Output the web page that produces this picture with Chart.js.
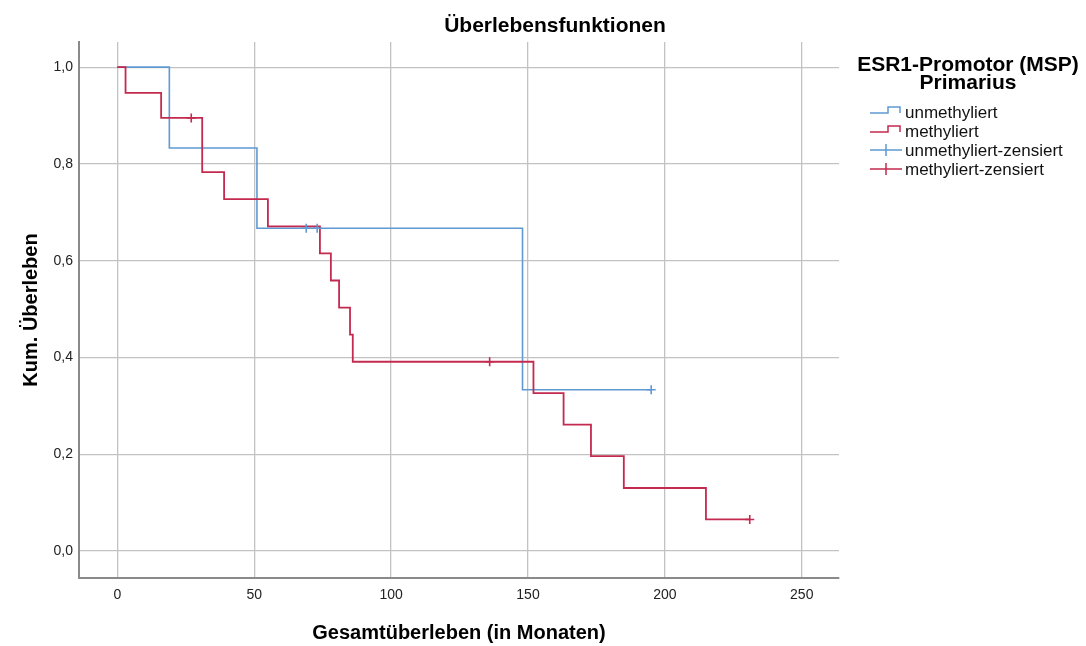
<!DOCTYPE html>
<html>
<head>
<meta charset="utf-8">
<script src="https://cdn.jsdelivr.net/npm/chart.js@4.4.1/dist/chart.umd.min.js"></script>
<style>
  html, body { margin: 0; padding: 0; background: #ffffff; }
  #wrap { position: relative; width: 1086px; height: 646px; }
</style>
</head>
<body>
<div id="wrap"><canvas id="c" width="1086" height="646"></canvas></div>
<script>
// ---- Data ----
const chartTitle = "Überlebensfunktionen";
const xAxisTitle = "Gesamtüberleben (in Monaten)";
const yAxisTitle = "Kum. Überleben";
const legendTitle = ["ESR1-Promotor (MSP)", "Primarius"];
const seriesNames = ["unmethyliert", "methyliert", "unmethyliert-zensiert", "methyliert-zensiert"];

const xTicks = [0, 50, 100, 150, 200, 250];
const yTicks = [0.0, 0.2, 0.4, 0.6, 0.8, 1.0];

// unmethyliert: step curve (time, survival after the step)
const unmethTimes = [0, 19, 51, 148, 195];
const unmethSurv  = [1.0, 0.833, 0.667, 0.333, 0.333];
const unmethCensTimes = [69, 73, 195];
const unmethCensSurv  = [0.667, 0.667, 0.333];

// methyliert
const methTimes = [0, 3, 16, 31, 39, 55, 74, 78, 81, 85, 86, 152, 163, 173, 185, 215, 231];
const methSurv  = [1.0, 0.947, 0.895, 0.783, 0.727, 0.671, 0.615, 0.559, 0.503, 0.447, 0.391, 0.326, 0.261, 0.196, 0.130, 0.065, 0.065];
const methCensTimes = [27, 136, 231];
const methCensSurv  = [0.895, 0.391, 0.065];

// ---- Styling ----
const BLUE = "#5f9ad2";
const RED = "#c42a4f";
const GRID = "#c2c2c2";
const AXIS = "#8a8a8a";
const FONT = '"Liberation Sans", Arial, sans-serif';

const toPts = (xs, ys) => xs.map((x, i) => ({ x: x, y: ys[i] }));

const overlay = {
  id: "overlay",
  afterDraw(chart) {
    const ctx = chart.ctx;
    const area = chart.chartArea;
    ctx.save();
    ctx.fillStyle = "#000";
    ctx.textBaseline = "alphabetic";
    ctx.textAlign = "center";
    // main title
    ctx.font = "bold 21px " + FONT;
    ctx.fillText(chartTitle, 555, 32);
    // legend title
    ctx.fillText(legendTitle[0], 968, 71);
    ctx.fillText(legendTitle[1], 968, 89);
    // axis titles
    ctx.font = "bold 20px " + FONT;
    ctx.fillText(xAxisTitle, (area.left + area.right) / 2, 639);
    ctx.save();
    ctx.translate(37, 310);
    ctx.rotate(-Math.PI / 2);
    ctx.fillText(yAxisTitle, 0, 0);
    ctx.restore();
    // legend items
    ctx.textAlign = "left";
    ctx.font = "17px " + FONT;
    const sx0 = 870, sx1 = 902, tx = 905;
    const rows = [112, 131, 150, 169];
    const cols = [BLUE, RED, BLUE, RED];
    rows.forEach((yc, i) => {
      ctx.strokeStyle = cols[i];
      ctx.lineWidth = 1.5;
      ctx.beginPath();
      if (i < 2) {
        const mid = sx0 + 18;
        ctx.moveTo(sx0, yc + 1);
        ctx.lineTo(mid, yc + 1);
        ctx.lineTo(mid, yc - 5);
        ctx.lineTo(sx1 - 2, yc - 5);
        ctx.lineTo(sx1 - 2, yc + 1);
      } else {
        ctx.moveTo(sx0, yc);
        ctx.lineTo(sx1, yc);
        const cx = (sx0 + sx1) / 2;
        ctx.moveTo(cx, yc - 6);
        ctx.lineTo(cx, yc + 6);
      }
      ctx.stroke();
      ctx.fillStyle = "#111";
      ctx.fillText(seriesNames[i], tx, yc + 6);
    });
    ctx.restore();
  }
};

new Chart(document.getElementById("c"), {
  type: "line",
  data: {
    datasets: [
      {
        label: seriesNames[2],
        type: "scatter",
        data: toPts(unmethCensTimes, unmethCensSurv),
        pointStyle: "cross",
        pointRadius: 4.5,
        borderColor: BLUE,
        backgroundColor: BLUE,
        borderWidth: 1.6
      },
      {
        label: seriesNames[3],
        type: "scatter",
        data: toPts(methCensTimes, methCensSurv),
        pointStyle: "cross",
        pointRadius: 4.5,
        borderColor: RED,
        backgroundColor: RED,
        borderWidth: 1.6
      },
      {
        label: seriesNames[1],
        data: toPts(methTimes, methSurv),
        stepped: true,
        borderColor: RED,
        borderWidth: 1.8,
        pointRadius: 0,
        fill: false
      },
      {
        label: seriesNames[0],
        data: toPts(unmethTimes, unmethSurv),
        stepped: true,
        borderColor: BLUE,
        borderWidth: 1.6,
        pointRadius: 0,
        fill: false
      }
    ]
  },
  options: {
    responsive: false,
    animation: false,
    devicePixelRatio: 1,
    layout: { padding: { top: 42, left: 0, right: 247, bottom: 0 } },
    plugins: {
      legend: { display: false },
      title: { display: false },
      tooltip: { enabled: false }
    },
    scales: {
      x: {
        type: "linear",
        min: -14,
        max: 263.6,
        afterBuildTicks: (s) => { s.ticks = xTicks.map(v => ({ value: v })); },
        afterFit: (s) => { s.height = 68; },
        grid: { color: GRID, lineWidth: 1.3, drawTicks: false },
        border: { color: AXIS, width: 2 },
        ticks: { color: "#222", font: { family: FONT, size: 14 }, padding: 9, maxRotation: 0 }
      },
      y: {
        type: "linear",
        min: -0.056,
        max: 1.052,
        afterBuildTicks: (s) => { s.ticks = yTicks.map(v => ({ value: v })); },
        afterFit: (s) => { s.width = 79; },
        grid: { color: GRID, lineWidth: 1.3, drawTicks: false },
        border: { color: AXIS, width: 2 },
        ticks: {
          color: "#222",
          font: { family: FONT, size: 14 },
          padding: 6,
          callback: (v) => Number(v).toFixed(1).replace(".", ",")
        }
      }
    }
  },
  plugins: [overlay]
});
</script>
</body>
</html>
